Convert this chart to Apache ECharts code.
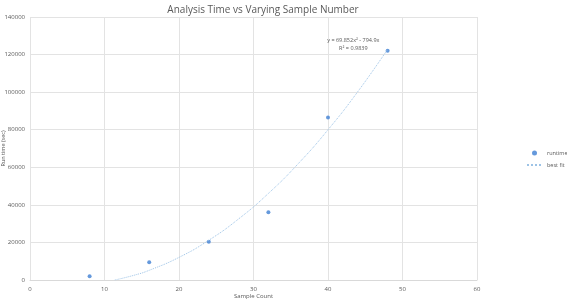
<!DOCTYPE html>
<html><head><meta charset="utf-8">
<script src="https://cdn.jsdelivr.net/npm/echarts@6/dist/echarts.min.js"></script>
<style>html,body{margin:0;padding:0;background:#fff}#c{width:567px;height:302px}</style>
</head><body><div id="c"></div>
<script>
var sampleCount = [8, 16, 24, 32, 40, 48];
var runtime = [2000, 9500, 20300, 36000, 86500, 122000];
var fitX = [11.38, 14, 16, 20, 24, 28, 32, 36, 40, 44, 48];
var fitY = [0, 2560, 5160, 12040, 21160, 32510, 46090, 61910, 79970, 100260, 122780];
var xTicks = [0, 10, 20, 30, 40, 50, 60];
var yTicks = [0, 20000, 40000, 60000, 80000, 100000, 120000, 140000];

var font = 'Open Sans';
var gray = '#595959';
var chart = echarts.init(document.getElementById('c'));
chart.setOption({
  animation: false,
  textStyle: {fontFamily: font},
  title: {text: 'Analysis Time vs Varying Sample Number', left: 258, top: 0, textAlign: 'center',
    textStyle: {fontSize: 10, fontWeight: 'normal', color: gray, fontFamily: font}},
  grid: {left: 30, right: 90, top: 17, bottom: 22, containLabel: false, outerBoundsMode: 'none'},
  legend: {orient: 'vertical', left: 526, top: 150, width: 41, itemWidth: 15, itemHeight: 5, itemGap: 6,
    padding: 0,
    textStyle: {fontSize: 5.5, color: gray, overflow: 'none'},
    data: [{name: 'runtime', icon: 'circle'},
           {name: 'best fit', itemStyle: {opacity: 0}}]},
  xAxis: {type: 'value', min: xTicks[0], max: xTicks[xTicks.length - 1], interval: 10,
    name: 'Sample Count', nameLocation: 'middle', nameGap: 13, nameMoveOverlap: false,
    nameTextStyle: {fontSize: 6, color: gray},
    axisLine: {lineStyle: {color: '#d9d9d9'}}, axisTick: {show: false},
    axisLabel: {fontSize: 6, color: gray, margin: 6},
    splitLine: {show: true, lineStyle: {color: '#e3e3e3'}}},
  yAxis: {type: 'value', min: yTicks[0], max: yTicks[yTicks.length - 1], interval: 20000,
    name: 'Run time (sec)', nameLocation: 'middle', nameGap: 24, nameRotate: 90, nameMoveOverlap: false,
    nameTextStyle: {fontSize: 5.5, color: gray},
    axisLine: {show: false}, axisTick: {show: false},
    axisLabel: {fontSize: 6, color: gray, margin: 5, formatter: function (v) { return String(v); }},
    splitLine: {show: true, lineStyle: {color: '#e3e3e3'}}},
  series: [
    {name: 'best fit', type: 'line', smooth: true, symbol: 'none',
      data: fitX.map(function (x, i) { return [x, fitY[i]]; }),
      lineStyle: {color: '#9dc3e6', width: 1, type: 'dotted'},
      itemStyle: {color: '#9dc3e6'},
      markPoint: {symbol: 'rect', symbolSize: 1, silent: true,
        itemStyle: {color: 'rgba(0,0,0,0)'},
        data: [{coord: [43.4, 125500], value: 'y = 69.852x² - 794.9x\nR² = 0.9839'}],
        label: {show: true, position: 'inside', fontSize: 5.5, color: gray, lineHeight: 8, align: 'center',
          formatter: function (p) { return p.value; }}}},
    {name: 'runtime', type: 'scatter', symbol: 'circle', symbolSize: 4,
      data: sampleCount.map(function (x, i) { return [x, runtime[i]]; }),
      itemStyle: {color: '#3f80d3'}}
  ]
});
</script></body></html>
